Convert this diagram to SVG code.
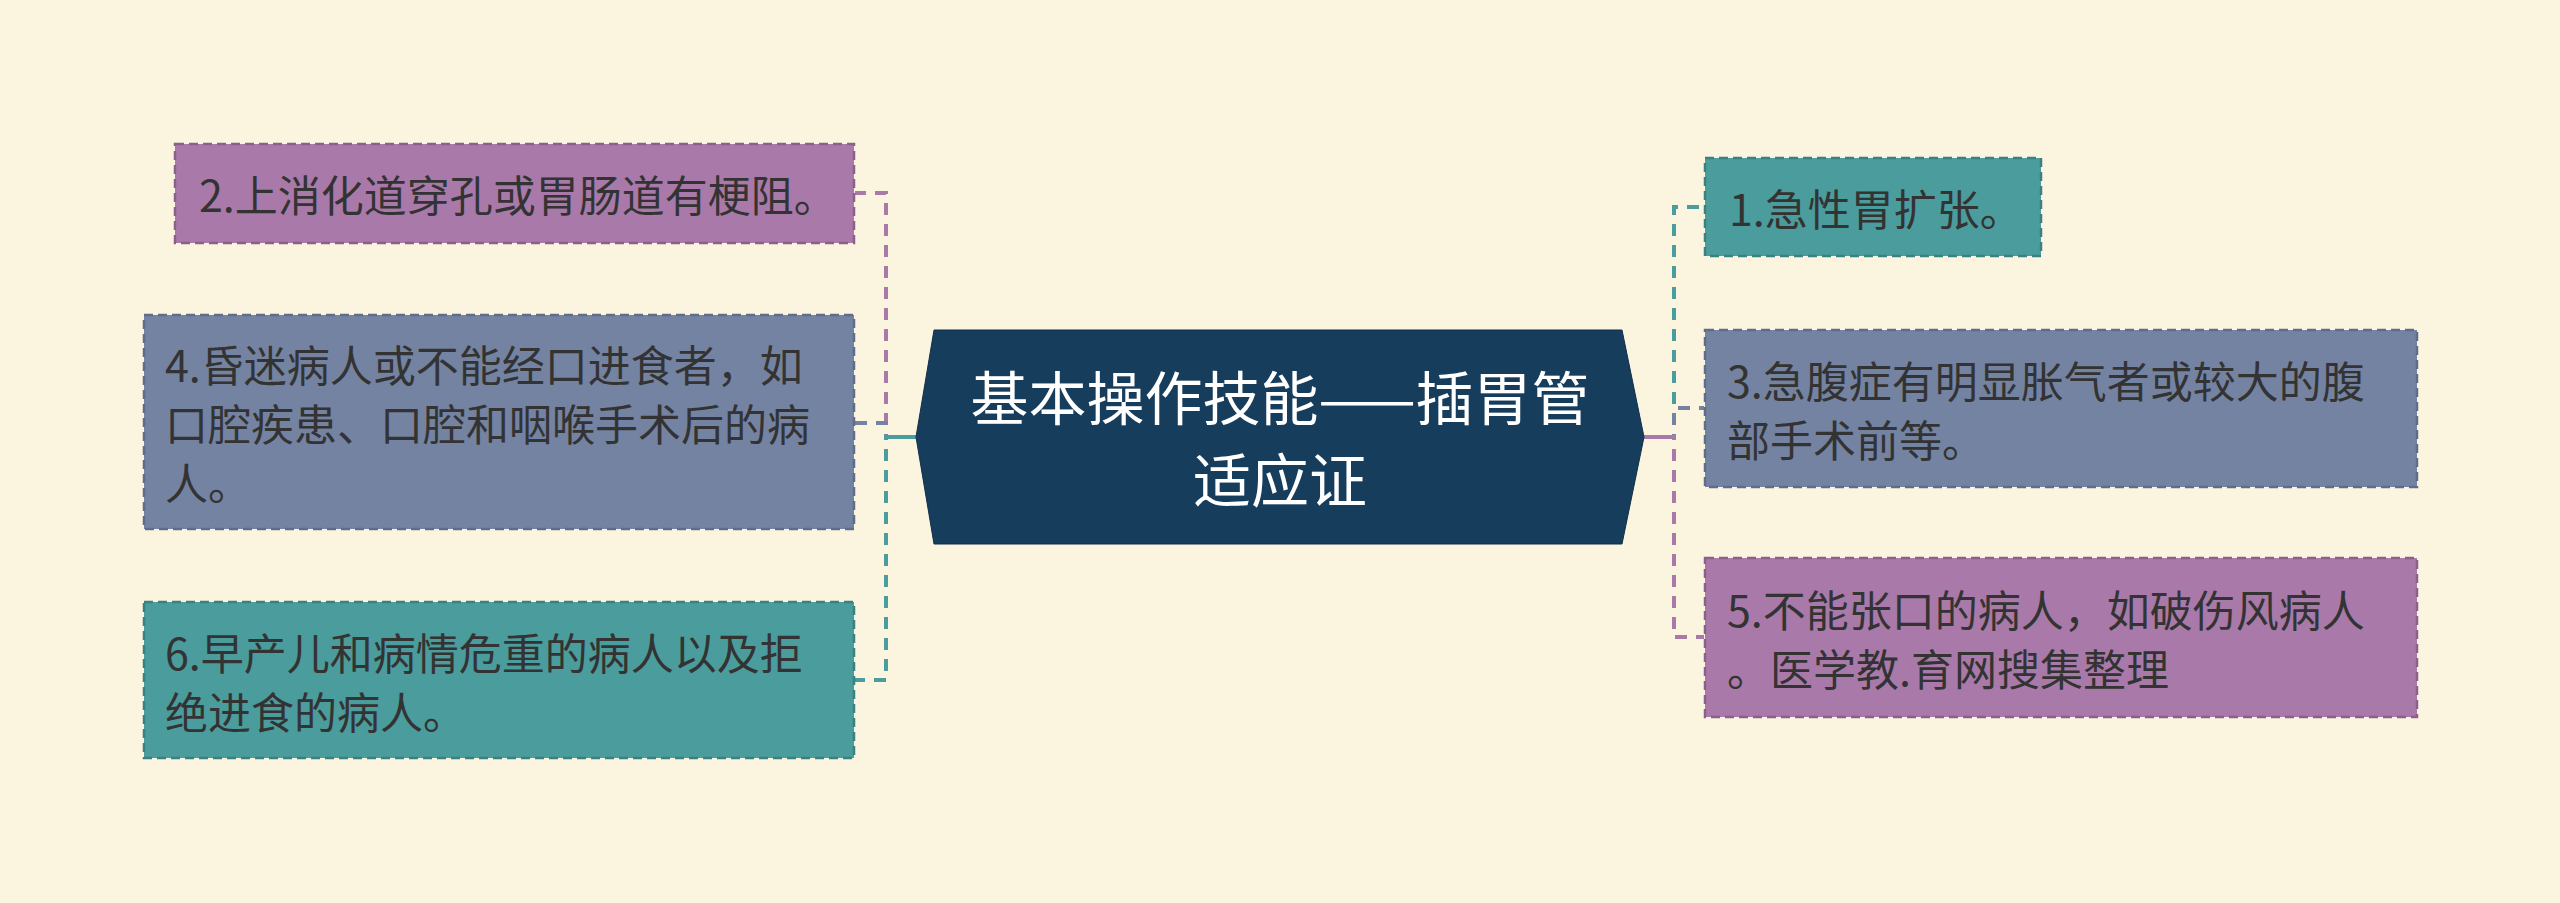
<svg xmlns="http://www.w3.org/2000/svg" width="2560" height="903" viewBox="0 0 2560 903">
<style>
.bg{fill:#fbf5e0}
.leaf text{font-family:"Noto Sans CJK SC","Noto Sans",sans-serif;font-size:43px;fill:#333333;dominant-baseline:central}
.box{stroke-width:2.5;stroke-dasharray:9 5}
.purple{fill:#a97aa9;stroke:#8c5f8c}
.gray{fill:#7483a2;stroke:#5f6d8b}
.teal{fill:#4b9c9c;stroke:#3a8181}
.conn{fill:none;stroke-width:4;stroke-dasharray:12 9}
.cp{stroke:#a97aa9}.cg{stroke:#7483a2}.ct{stroke:#4b9c9c}
.center text{font-family:"Noto Sans CJK SC","Noto Sans",sans-serif;font-size:58px;fill:#ffffff;dominant-baseline:central;text-anchor:middle}
</style>
<rect class="bg" x="0" y="0" width="2560" height="903"/>
<g id="connectors">
<path class="conn cp" d="M916 437 H886 V193 H855"/>
<path class="conn cg" d="M916 437 H886 V423 H855"/>
<path class="conn ct" d="M916 437 H886 V680 H855"/>
<path class="conn ct" d="M1644 437 H1674 V207 H1704"/>
<path class="conn cg" d="M1644 437 H1674 V408 H1704"/>
<path class="conn cp" d="M1644 437 H1674 V637 H1704"/>
<path d="M886 437 H916" stroke="#4b9c9c" stroke-width="4" fill="none"/>
<path d="M1644 437 H1674" stroke="#a97aa9" stroke-width="4" fill="none"/>
</g>
<g id="center" class="center">
<polygon points="916,437 934,330 1622,330 1644,437 1622,544 934,544" fill="#173d5c" stroke="#0f2f4a" stroke-width="1"/>
<text x="1280" y="395">基本操作技能——插胃管</text>
<text x="1280" y="477">适应证</text>
</g>
<g id="node2" class="leaf">
<rect class="box purple" x="175" y="144" width="679" height="99"/>
<text x="199" y="193">2.上消化道穿孔或胃肠道有梗阻。</text>
</g>
<g id="node4" class="leaf">
<rect class="box gray" x="144" y="315" width="710" height="214"/>
<text x="165" y="363">4.昏迷病人或不能经口进食者，如</text>
<text x="165" y="422">口腔疾患、口腔和咽喉手术后的病</text>
<text x="165" y="481">人。</text>
</g>
<g id="node6" class="leaf">
<rect class="box teal" x="144" y="602" width="710" height="156"/>
<text x="165" y="651">6.早产儿和病情危重的病人以及拒</text>
<text x="165" y="710">绝进食的病人。</text>
</g>
<g id="node1" class="leaf">
<rect class="box teal" x="1705" y="158" width="336" height="98"/>
<text x="1729" y="207">1.急性胃扩张。</text>
</g>
<g id="node3" class="leaf">
<rect class="box gray" x="1705" y="330" width="712" height="157"/>
<text x="1727" y="379">3.急腹症有明显胀气者或较大的腹</text>
<text x="1727" y="438">部手术前等。</text>
</g>
<g id="node5" class="leaf">
<rect class="box purple" x="1705" y="558" width="712" height="159"/>
<text x="1727" y="608">5.不能张口的病人，如破伤风病人</text>
<text x="1727" y="667">。医学教.育网搜集整理</text>
</g>
</svg>
